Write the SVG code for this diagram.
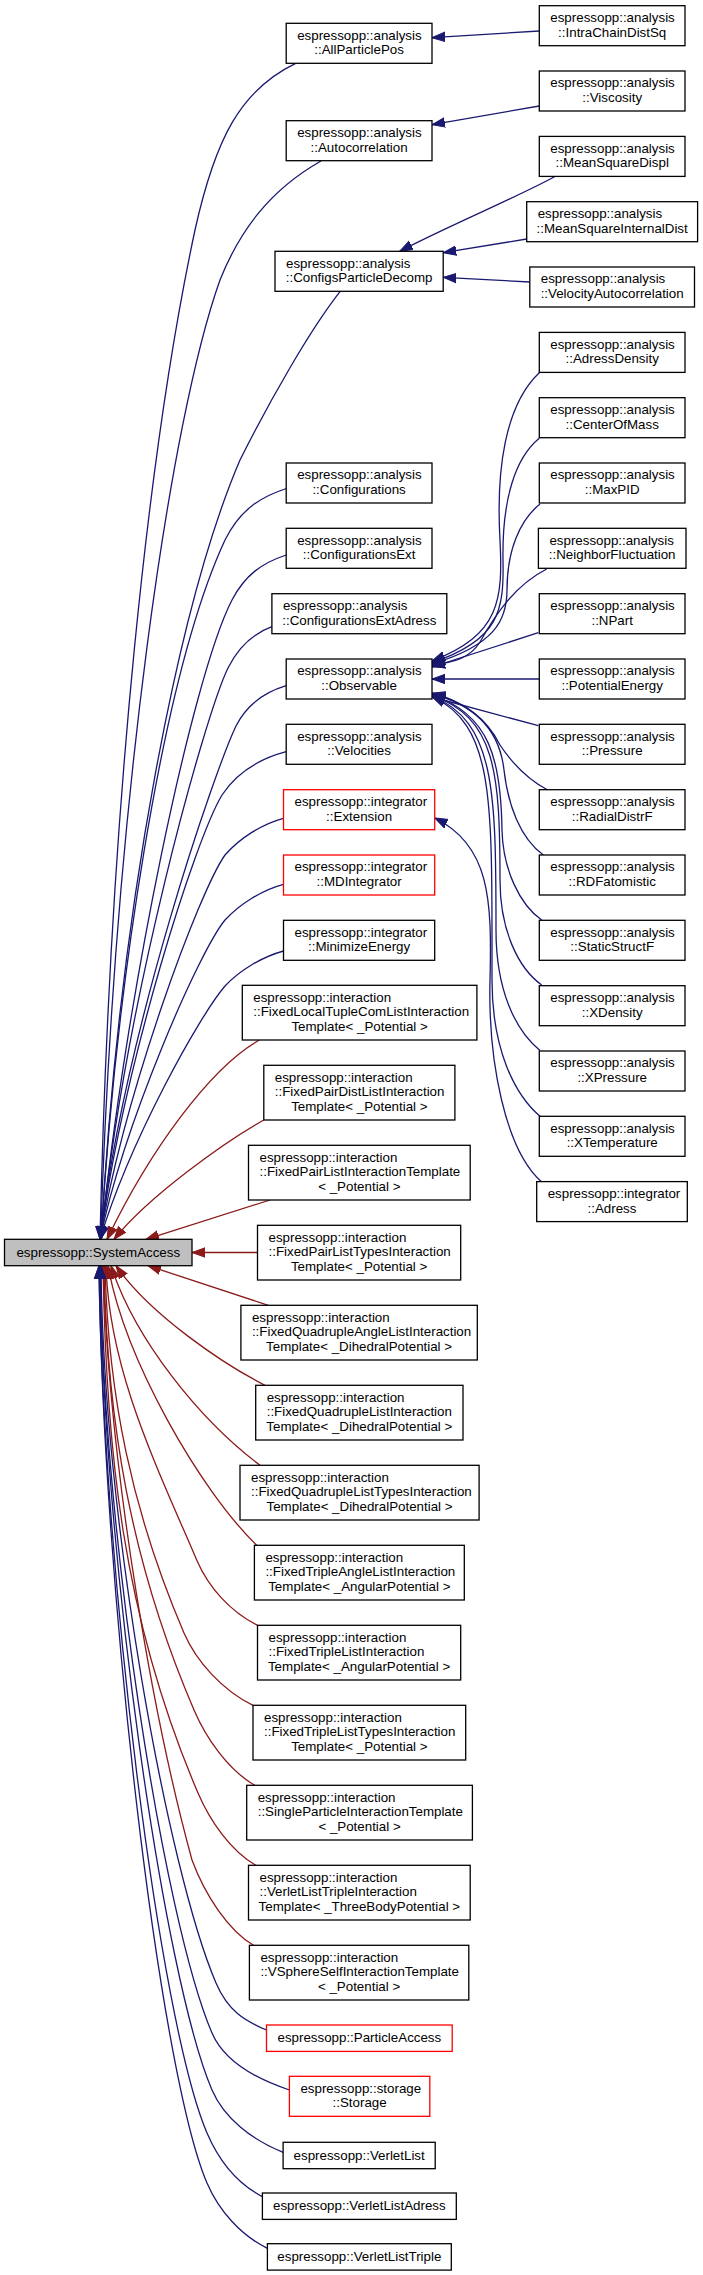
<svg xmlns="http://www.w3.org/2000/svg" width="703" height="2275" viewBox="0 0 703 2275">
<style>
.n rect{fill:#ffffff;stroke:#000000;stroke-width:1.3}
.n.red rect{stroke:#ff0000}
#SystemAccess rect{fill:#bfbfbf}
text{font-family:"Liberation Sans",Arial,Helvetica,sans-serif;font-size:13.33px;fill:#000000}
.c{text-anchor:middle}
.eb{fill:none;stroke:#191970;stroke-width:1.3;marker-end:url(#ab)}
.er{fill:none;stroke:#8b1a1a;stroke-width:1.3;marker-end:url(#ar)}
</style>
<defs>
<marker id="ab" viewBox="0 -6 14 12" refX="13" refY="0" markerWidth="14" markerHeight="12" markerUnits="userSpaceOnUse" orient="auto"><path d="M0,-4.7 L13,0 L0,4.7 z" fill="#191970" stroke="#191970" stroke-width="1"/></marker>
<marker id="ar" viewBox="0 -6 14 12" refX="13" refY="0" markerWidth="14" markerHeight="12" markerUnits="userSpaceOnUse" orient="auto"><path d="M0,-4.7 L13,0 L0,4.7 z" fill="#8b1a1a" stroke="#8b1a1a" stroke-width="1"/></marker>
</defs>
<rect x="0" y="0" width="703" height="2275" fill="#ffffff"/>
<g id="edges">
<path class="eb" d="M539.3,31 L432,37.7"/>
<path class="eb" d="M539.3,106 L432,124.7"/>
<path class="eb" d="M555.4,176.3 C520,196 450,225 399.7,251.3"/>
<path class="eb" d="M526.7,239 L443.2,252.7"/>
<path class="eb" d="M529.8,282 L443.2,277.3"/>
<path class="eb" d="M539.3,372.7 C505,405 496,470 500,540 C503,600 500,635 432,661"/>
<path class="eb" d="M539.3,438.3 C515,458 502,500 503,560 C504,610 500,640 432,662.5"/>
<path class="eb" d="M540,504 C520,520 507,550 507,590 C507,620 495,645 432,664"/>
<path class="eb" d="M546.7,569 C515,585 495,615 480,642 C470,658 455,662 432,665.5"/>
<path class="eb" d="M538.3,632.7 L432,667"/>
<path class="eb" d="M539.3,679 L432,679"/>
<path class="eb" d="M538.3,725.7 L432,697"/>
<path class="eb" d="M547.7,790 C525,778 510,760 500,745 C490,725 470,703 432,693"/>
<path class="eb" d="M543.3,855 C520,838 508,805 504,770 C500,735 480,706 432,694"/>
<path class="eb" d="M541.7,920 C520,905 503,870 502,830 C501,760 490,714 432,695"/>
<path class="eb" d="M541.7,985 C518,968 500,930 500,880 C500,770 495,718 432,695.5"/>
<path class="eb" d="M540,1050.5 C515,1030 496,990 496,930 C496,790 495,722 432,696"/>
<path class="eb" d="M540,1116.3 C515,1095 492,1050 492,980 C492,800 495,726 432,696.5"/>
<path class="eb" d="M541.7,1182 C505,1150 488,1060 490,980 C492,900 490,845 434.7,818"/>
<path class="eb" d="M295.7,63.3 C240,90 215,140 195,230 C150,440 110,800 100,1239.3"/>
<path class="eb" d="M321,161 C270,190 240,230 220,280 C170,420 115,800 100.5,1239.3"/>
<path class="eb" d="M340,291.7 C310,330 270,400 240,460 C180,600 120,900 101,1239.3"/>
<path class="eb" d="M286.5,488.5 C260,497 240,510 225,540 C160,680 115,1000 101,1239.3"/>
<path class="eb" d="M286.2,555 C262,563 245,575 232,600 C192,677 125,1000 101,1239.3"/>
<path class="eb" d="M271.9,626.7 C252,634 238,648 228,668 C205,715 125,1000 101,1239.3"/>
<path class="eb" d="M286.2,685.7 C262,693 246,706 236,726 C215,770 125,1030 100,1239.3"/>
<path class="eb" d="M286.2,751.7 C255,760 235,775 222,795 C195,840 125,1060 100,1239.3"/>
<path class="eb" d="M283.5,818.3 C262,824 240,838 225,855 C200,890 125,1090 100,1239.3"/>
<path class="eb" d="M283.5,884.3 C262,890 240,904 225,920 C200,950 125,1120 100,1239.3"/>
<path class="eb" d="M283.5,951 C262,957 240,970 225,986 C200,1015 130,1140 100,1239.3"/>
<path class="er" d="M259.3,1040 C210,1068 150,1150 107,1239.3"/>
<path class="er" d="M263.8,1120 C225,1142 150,1195 114,1239.3"/>
<path class="er" d="M270,1200 L146,1239.3"/>
<path class="er" d="M257.5,1252.5 L192,1252.5"/>
<path class="er" d="M268.3,1305.3 L148,1265.7"/>
<path class="er" d="M265,1385.3 C225,1365 150,1315 116,1265.7"/>
<path class="er" d="M260,1465.3 C200,1420 135,1340 111,1265.7"/>
<path class="er" d="M256.7,1545.3 C200,1490 125,1360 108,1265.7"/>
<path class="er" d="M257.5,1625.3 C230.8,1612 208.7,1588 196.7,1560 C154.7,1462 109,1369 106,1265.7"/>
<path class="er" d="M253,1705.3 C222.5,1690.6 196,1661 184,1633 C131.6,1510.7 108,1394.5 105,1265.7"/>
<path class="er" d="M254.8,1785.3 C228.1,1770 206,1738 194,1710 C130.5,1562 107,1421 104,1265.7"/>
<path class="er" d="M255.7,1865.3 C230.5,1850.6 210,1821 198,1793 C122.8,1617.3 106,1450 103,1265.7"/>
<path class="er" d="M253.5,1945.3 C228,1930 205,1895 192,1860 C155,1725 110,1480 103,1265.7"/>
<path class="eb" d="M266.5,2030 C244.4,2020.6 228,2011 216,1983 C168,1871 103,1517 101,1265.7"/>
<path class="eb" d="M289.4,2090 C255.3,2078.6 224,2061 212,2033 C164,1921 103,1534 100,1265.7"/>
<path class="eb" d="M283.1,2152.3 C251.8,2139.8 224,2118 212,2090 C164,1978 103,1554 100,1265.7"/>
<path class="eb" d="M262.4,2196.7 C238.1,2184 219,2161 207,2133 C159,2021 103,1569 99,1265.7"/>
<path class="eb" d="M267.4,2248.3 C240.9,2235.3 219,2211 207,2183 C159,2071 103,1587 99,1265.7"/>
</g>
<g id="SystemAccess" class="n"><rect x="4.5" y="1239.3" width="187.5" height="26.4"/><text class="c" x="98.25" y="1256.6">espressopp::SystemAccess</text></g>
<g id="AllParticlePos" class="n"><rect x="286.2" y="23.3" width="145.8" height="40"/><text x="297.2" y="39.6">espressopp::analysis</text><text class="c" x="359.1" y="54.2">::AllParticlePos</text></g>
<g id="Autocorrelation" class="n"><rect x="286.2" y="120.7" width="145.8" height="40"/><text x="297.2" y="137">espressopp::analysis</text><text class="c" x="359.1" y="151.6">::Autocorrelation</text></g>
<g id="ConfigsParticleDecomp" class="n"><rect x="275" y="251.3" width="168.2" height="40"/><text x="286" y="267.6">espressopp::analysis</text><text class="c" x="359.1" y="282.2">::ConfigsParticleDecomp</text></g>
<g id="Configurations" class="n"><rect x="286.2" y="463" width="145.8" height="40"/><text x="297.2" y="479.3">espressopp::analysis</text><text class="c" x="359.1" y="493.9">::Configurations</text></g>
<g id="ConfigurationsExt" class="n"><rect x="286.2" y="528.3" width="145.8" height="40"/><text x="297.2" y="544.6">espressopp::analysis</text><text class="c" x="359.1" y="559.2">::ConfigurationsExt</text></g>
<g id="ConfigurationsExtAdress" class="n"><rect x="271.9" y="593.7" width="174.9" height="40"/><text x="282.9" y="610">espressopp::analysis</text><text class="c" x="359.3" y="624.6">::ConfigurationsExtAdress</text></g>
<g id="Observable" class="n"><rect x="286.2" y="659" width="145.8" height="40"/><text x="297.2" y="675.3">espressopp::analysis</text><text class="c" x="359.1" y="689.9">::Observable</text></g>
<g id="Velocities" class="n"><rect x="286.2" y="724.3" width="145.8" height="40"/><text x="297.2" y="740.6">espressopp::analysis</text><text class="c" x="359.1" y="755.2">::Velocities</text></g>
<g id="Extension" class="n red"><rect x="283.5" y="789.7" width="151.2" height="40"/><text x="294.5" y="806">espressopp::integrator</text><text class="c" x="359.1" y="820.6">::Extension</text></g>
<g id="MDIntegrator" class="n red"><rect x="283.5" y="855" width="151.2" height="40"/><text x="294.5" y="871.3">espressopp::integrator</text><text class="c" x="359.1" y="885.9">::MDIntegrator</text></g>
<g id="MinimizeEnergy" class="n"><rect x="283.5" y="920.3" width="151.2" height="40"/><text x="294.5" y="936.6">espressopp::integrator</text><text class="c" x="359.1" y="951.2">::MinimizeEnergy</text></g>
<g id="FixedLocalTupleComListInteractionTemplate" class="n"><rect x="242.3" y="985.3" width="234.6" height="54.7"/><text x="253.3" y="1001.6">espressopp::interaction</text><text x="253.3" y="1016.3">::FixedLocalTupleComListInteraction</text><text class="c" x="359.6" y="1031">Template&lt; _Potential &gt;</text></g>
<g id="FixedPairDistListInteractionTemplate" class="n"><rect x="263.8" y="1065.3" width="191.1" height="54.7"/><text x="274.8" y="1081.6">espressopp::interaction</text><text x="274.8" y="1096.3">::FixedPairDistListInteraction</text><text class="c" x="359.35" y="1111">Template&lt; _Potential &gt;</text></g>
<g id="FixedPairListInteractionTemplate" class="n"><rect x="248.5" y="1145.3" width="221.7" height="54.7"/><text x="259.5" y="1161.6">espressopp::interaction</text><text x="259.5" y="1176.3">::FixedPairListInteractionTemplate</text><text class="c" x="359.35" y="1191">&lt; _Potential &gt;</text></g>
<g id="FixedPairListTypesInteractionTemplate" class="n"><rect x="257.5" y="1225.3" width="203.2" height="54.7"/><text x="268.5" y="1241.6">espressopp::interaction</text><text x="268.5" y="1256.3">::FixedPairListTypesInteraction</text><text class="c" x="359.1" y="1271">Template&lt; _Potential &gt;</text></g>
<g id="FixedQuadrupleAngleListInteractionTemplate" class="n"><rect x="240.9" y="1305.3" width="236.4" height="54.7"/><text x="251.9" y="1321.6">espressopp::interaction</text><text x="251.9" y="1336.3">::FixedQuadrupleAngleListInteraction</text><text class="c" x="359.1" y="1351">Template&lt; _DihedralPotential &gt;</text></g>
<g id="FixedQuadrupleListInteractionTemplate" class="n"><rect x="255.7" y="1385.3" width="207.3" height="54.7"/><text x="266.7" y="1401.6">espressopp::interaction</text><text x="266.7" y="1416.3">::FixedQuadrupleListInteraction</text><text class="c" x="359.35" y="1431">Template&lt; _DihedralPotential &gt;</text></g>
<g id="FixedQuadrupleListTypesInteractionTemplate" class="n"><rect x="240" y="1465.3" width="239.1" height="54.7"/><text x="251" y="1481.6">espressopp::interaction</text><text x="251" y="1496.3">::FixedQuadrupleListTypesInteraction</text><text class="c" x="359.55" y="1511">Template&lt; _DihedralPotential &gt;</text></g>
<g id="FixedTripleAngleListInteractionTemplate" class="n"><rect x="254.4" y="1545.3" width="209.9" height="54.7"/><text x="265.4" y="1561.6">espressopp::interaction</text><text x="265.4" y="1576.3">::FixedTripleAngleListInteraction</text><text class="c" x="359.35" y="1591">Template&lt; _AngularPotential &gt;</text></g>
<g id="FixedTripleListInteractionTemplate" class="n"><rect x="257.5" y="1625.3" width="203.2" height="54.7"/><text x="268.5" y="1641.6">espressopp::interaction</text><text x="268.5" y="1656.3">::FixedTripleListInteraction</text><text class="c" x="359.1" y="1671">Template&lt; _AngularPotential &gt;</text></g>
<g id="FixedTripleListTypesInteractionTemplate" class="n"><rect x="253" y="1705.3" width="212.7" height="54.7"/><text x="264" y="1721.6">espressopp::interaction</text><text x="264" y="1736.3">::FixedTripleListTypesInteraction</text><text class="c" x="359.35" y="1751">Template&lt; _Potential &gt;</text></g>
<g id="SingleParticleInteractionTemplate" class="n"><rect x="246.7" y="1785.3" width="225.7" height="54.7"/><text x="257.7" y="1801.6">espressopp::interaction</text><text x="257.7" y="1816.3">::SingleParticleInteractionTemplate</text><text class="c" x="359.55" y="1831">&lt; _Potential &gt;</text></g>
<g id="VerletListTripleInteractionTemplate" class="n"><rect x="248.5" y="1865.3" width="221.7" height="54.7"/><text x="259.5" y="1881.6">espressopp::interaction</text><text x="259.5" y="1896.3">::VerletListTripleInteraction</text><text class="c" x="359.35" y="1911">Template&lt; _ThreeBodyPotential &gt;</text></g>
<g id="VSphereSelfInteractionTemplate" class="n"><rect x="249.4" y="1945.3" width="219.4" height="54.7"/><text x="260.4" y="1961.6">espressopp::interaction</text><text x="260.4" y="1976.3">::VSphereSelfInteractionTemplate</text><text class="c" x="359.1" y="1991">&lt; _Potential &gt;</text></g>
<g id="ParticleAccess" class="n red"><rect x="266.5" y="2025" width="185.7" height="26.4"/><text class="c" x="359.35" y="2042.3">espressopp::ParticleAccess</text></g>
<g id="Storage" class="n red"><rect x="289.4" y="2076.3" width="140.4" height="40"/><text x="300.4" y="2092.6">espressopp::storage</text><text class="c" x="359.6" y="2107.2">::Storage</text></g>
<g id="VerletList" class="n"><rect x="283.1" y="2142.3" width="152.1" height="26.4"/><text class="c" x="359.15" y="2159.6">espressopp::VerletList</text></g>
<g id="VerletListAdress" class="n"><rect x="262.4" y="2193" width="193.9" height="26.4"/><text class="c" x="359.35" y="2210.3">espressopp::VerletListAdress</text></g>
<g id="VerletListTriple" class="n"><rect x="267.4" y="2243.7" width="183.9" height="26.4"/><text class="c" x="359.35" y="2261">espressopp::VerletListTriple</text></g>
<g id="IntraChainDistSq" class="n"><rect x="539.3" y="5.7" width="145.7" height="40"/><text x="550.3" y="22">espressopp::analysis</text><text class="c" x="612.2" y="36.6">::IntraChainDistSq</text></g>
<g id="Viscosity" class="n"><rect x="539.3" y="71" width="145.7" height="40"/><text x="550.3" y="87.3">espressopp::analysis</text><text class="c" x="612.2" y="101.9">::Viscosity</text></g>
<g id="MeanSquareDispl" class="n"><rect x="539.3" y="136.4" width="145.7" height="40"/><text x="550.3" y="152.7">espressopp::analysis</text><text class="c" x="612.2" y="167.3">::MeanSquareDispl</text></g>
<g id="MeanSquareInternalDist" class="n"><rect x="526.7" y="201.7" width="170.9" height="40"/><text x="537.7" y="218">espressopp::analysis</text><text class="c" x="612.15" y="232.6">::MeanSquareInternalDist</text></g>
<g id="VelocityAutocorrelation" class="n"><rect x="529.8" y="267" width="164.7" height="40"/><text x="540.8" y="283.3">espressopp::analysis</text><text class="c" x="612.15" y="297.9">::VelocityAutocorrelation</text></g>
<g id="AdressDensity" class="n"><rect x="539.3" y="332.4" width="145.7" height="40"/><text x="550.3" y="348.7">espressopp::analysis</text><text class="c" x="612.2" y="363.3">::AdressDensity</text></g>
<g id="CenterOfMass" class="n"><rect x="539.3" y="397.7" width="145.7" height="40"/><text x="550.3" y="414">espressopp::analysis</text><text class="c" x="612.2" y="428.6">::CenterOfMass</text></g>
<g id="MaxPID" class="n"><rect x="539.3" y="463" width="145.7" height="40"/><text x="550.3" y="479.3">espressopp::analysis</text><text class="c" x="612.2" y="493.9">::MaxPID</text></g>
<g id="NeighborFluctuation" class="n"><rect x="538.4" y="528.3" width="147.6" height="40"/><text x="549.4" y="544.6">espressopp::analysis</text><text class="c" x="612.2" y="559.2">::NeighborFluctuation</text></g>
<g id="NPart" class="n"><rect x="539.3" y="593.7" width="145.7" height="40"/><text x="550.3" y="610">espressopp::analysis</text><text class="c" x="612.2" y="624.6">::NPart</text></g>
<g id="PotentialEnergy" class="n"><rect x="539.3" y="659" width="145.7" height="40"/><text x="550.3" y="675.3">espressopp::analysis</text><text class="c" x="612.2" y="689.9">::PotentialEnergy</text></g>
<g id="Pressure" class="n"><rect x="539.3" y="724.3" width="145.7" height="40"/><text x="550.3" y="740.6">espressopp::analysis</text><text class="c" x="612.2" y="755.2">::Pressure</text></g>
<g id="RadialDistrF" class="n"><rect x="539.3" y="789.7" width="145.7" height="40"/><text x="550.3" y="806">espressopp::analysis</text><text class="c" x="612.2" y="820.6">::RadialDistrF</text></g>
<g id="RDFatomistic" class="n"><rect x="539.3" y="855" width="145.7" height="40"/><text x="550.3" y="871.3">espressopp::analysis</text><text class="c" x="612.2" y="885.9">::RDFatomistic</text></g>
<g id="StaticStructF" class="n"><rect x="539.3" y="920.3" width="145.7" height="40"/><text x="550.3" y="936.6">espressopp::analysis</text><text class="c" x="612.2" y="951.2">::StaticStructF</text></g>
<g id="XDensity" class="n"><rect x="539.3" y="985.7" width="145.7" height="40"/><text x="550.3" y="1002">espressopp::analysis</text><text class="c" x="612.2" y="1016.6">::XDensity</text></g>
<g id="XPressure" class="n"><rect x="539.3" y="1051" width="145.7" height="40"/><text x="550.3" y="1067.3">espressopp::analysis</text><text class="c" x="612.2" y="1081.9">::XPressure</text></g>
<g id="XTemperature" class="n"><rect x="539.3" y="1116.3" width="145.7" height="40"/><text x="550.3" y="1132.6">espressopp::analysis</text><text class="c" x="612.2" y="1147.2">::XTemperature</text></g>
<g id="Adress" class="n"><rect x="536.7" y="1181.6" width="150.6" height="40"/><text x="547.7" y="1197.9">espressopp::integrator</text><text class="c" x="612" y="1212.5">::Adress</text></g>
</svg>
